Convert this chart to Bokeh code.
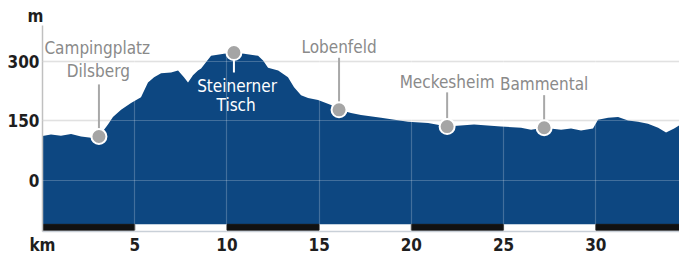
import numpy as np
from bokeh.plotting import figure
from bokeh.models import FixedTicker, Grid, Range1d
from bokeh.core.properties import value
from bokeh.embed import file_html
from bokeh.resources import INLINE

# ---- data ----
km = [0.0, 0.46, 1.0, 1.55, 2.09, 2.63, 3.06, 3.55, 3.82, 4.26, 4.80, 5.34, 5.72, 6.05,
      6.43, 6.97, 7.35, 7.67, 7.89, 8.16, 8.43, 8.60, 9.14, 9.84, 10.38, 10.93, 11.69,
      11.96, 12.23, 12.78, 13.31, 13.64, 14.02, 14.40, 14.94, 15.65, 16.08, 16.73, 17.27,
      18.36, 19.82, 20.91, 21.94, 23.40, 24.86, 25.95, 26.49, 27.20, 28.12, 28.66, 29.20,
      29.85, 30.12, 30.67, 31.21, 31.75, 32.29, 32.83, 33.38, 33.81, 34.25, 34.6]
elev = [112, 116, 113, 117, 111, 108, 111, 141, 160, 178, 195, 210, 247, 260,
        270, 272, 277, 260, 247, 265, 277, 282, 314, 319, 322, 319, 314,
        302, 284, 277, 260, 235, 215, 208, 203, 190, 178, 170, 165,
        158, 148, 145, 136, 141, 136, 133, 128, 133, 128, 131, 126,
        131, 153, 158, 160, 151, 148, 143, 133, 121, 131, 141]

place_km = [3.06, 10.38, 16.08, 21.94, 27.20]
place_elev = [111, 322, 178, 136, 133]
conn_top = [242, 272, 309, 222, 215]
conn_color = ["#a8a8a8", "#ffffff", "#a8a8a8", "#a8a8a8", "#a8a8a8"]

label_text = ["Campingplatz", "Dilsberg", "Steinerner", "Tisch", "Lobenfeld", "Meckesheim", "Bammental"]
label_km = [2.97, 3.03, 10.55, 10.5, 16.08, 21.94, 27.2]
label_base = [334, 277, 239, 190, 336, 249, 243]
label_color = ["#8a8a8a", "#8a8a8a", "#ffffff", "#ffffff", "#8a8a8a", "#8a8a8a", "#8a8a8a"]

scale_start = [0, 10, 20, 30]
scale_end = [5, 15, 25, 35]

x_ticks = [0, 5, 10, 15, 20, 25, 30]
y_ticks = [0, 150, 300]

FONT = "'DejaVu Sans Condensed', 'Roboto', sans-serif"
BLUE = "#0d4781"

p = figure(width=679, height=257, output_backend="svg", toolbar_location=None,
           x_range=Range1d(0, 34.54), y_range=Range1d(-128, 390.2),
           min_border_left=42, min_border_right=0, min_border_top=25, min_border_bottom=23,
           title="m")
p.outline_line_color = None
p.background_fill_color = "white"

# unit label "m" above the y axis (as the title)
p.title.align = "left"
p.title.offset = -15
p.title.standoff = 0
p.title.text_font = FONT
p.title.text_font_style = "bold"
p.title.text_font_size = "17px"
p.title.text_color = "#1e1e1e"

# grids
p.xgrid.visible = False
p.ygrid.ticker = FixedTicker(ticks=y_ticks)
p.ygrid.grid_line_color = "#d9d9d9"
p.ygrid.grid_line_width = 1.5

# profile
p.varea(x=km, y1=-110, y2=elev, fill_color=BLUE)

# scale bar
p.quad(left=scale_start, right=scale_end, bottom=-125, top=-110, color="#111111")

# overlay grid lines (visible on the blue fill)
p.add_layout(Grid(dimension=0, ticker=FixedTicker(ticks=x_ticks[1:]), grid_line_color="white",
                  grid_line_alpha=0.22, grid_line_width=1.2, level="guide"))
p.add_layout(Grid(dimension=1, ticker=FixedTicker(ticks=y_ticks), grid_line_color="white",
                  grid_line_alpha=0.22, grid_line_width=1.2, level="guide"))

# connectors
p.segment(x0=place_km, y0=place_elev, x1=place_km, y1=conn_top, line_color=conn_color,
          line_width=2, level="overlay")
# markers
p.scatter(x=place_km, y=place_elev, size=15, fill_color="#a5a5a5", line_color="white",
          line_width=2, level="overlay")
# labels
p.text(x=label_km, y=label_base, text=label_text, text_font=value(FONT), text_font_size="17px",
       text_align="center", text_baseline="alphabetic", text_color=label_color, level="overlay")

# axes
for ax in (p.xaxis[0], p.yaxis[0]):
    ax.major_tick_line_color = None
    ax.minor_tick_line_color = None
    ax.major_tick_out = 0
    ax.major_tick_in = 0
    ax.minor_tick_out = 0
    ax.minor_tick_in = 0
    ax.axis_label = None
    ax.major_label_text_font = FONT
    ax.major_label_text_font_style = "bold"
    ax.major_label_text_font_size = "17px"
    ax.major_label_text_color = "#1e1e1e"
    ax.axis_line_width = 1.5

p.yaxis.ticker = FixedTicker(ticks=y_ticks)
p.yaxis.axis_line_color = "#c0c0c0"
p.yaxis.major_label_standoff = 3

p.xaxis.ticker = FixedTicker(ticks=x_ticks)
p.xaxis.major_label_overrides = {0: "km"}
p.xaxis.axis_line_color = "#c9d0d8"
p.xaxis.major_label_standoff = 3

open("out.html", "w").write(file_html(p, INLINE))
